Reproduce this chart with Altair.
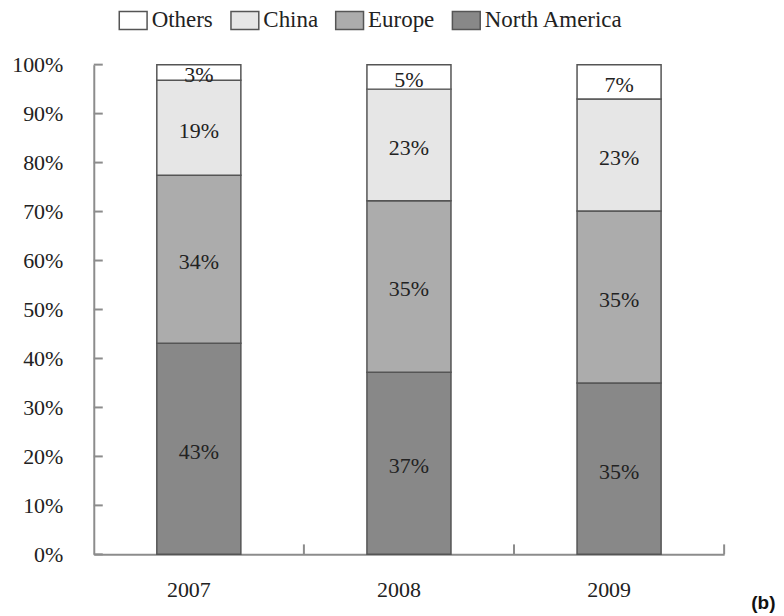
import altair as alt
import pandas as pd

years = ["2007", "2008", "2009"]
regions = ["North America", "Europe", "China", "Others"]
north_america = [43.1, 37.2, 35.0]
europe = [34.3, 35.0, 35.1]
china = [19.4, 22.8, 22.9]
others = [3.2, 5.0, 7.0]
y_tick_values = [0, 10, 20, 30, 40, 50, 60, 70, 80, 90, 100]

legend_order = ["Others", "China", "Europe", "North America"]
colors = ["#ffffff", "#e6e6e6", "#acacac", "#888888"]

SERIF = "Liberation Serif"
AXIS_COLOR = "#8c8c8c"
TEXT_COLOR = "#222222"

series = {"North America": north_america, "Europe": europe, "China": china, "Others": others}
rows = []
for i, yr in enumerate(years):
    base = 0.0
    for k, r in enumerate(regions):
        v = series[r][i]
        rows.append(dict(year=yr, region=r, value=v, order=k, mid=base + v / 2, label=f"{round(v)}%"))
        base += v
df = pd.DataFrame(rows)
ticks_df = pd.DataFrame({"v": y_tick_values})
years_df = pd.DataFrame({"year": years})

x_scale = alt.Scale(domain=years, paddingInner=0, paddingOuter=0)
y_scale = alt.Scale(domain=[0, 100], nice=False)

x_axis = alt.Axis(
    title="(b)", titleFont="Liberation Sans", titleFontWeight="bold", titleFontSize=19,
    titleColor="#111111", titleX=683, titleY=48, titleAlign="right", titleBaseline="middle",
    labelAngle=0, ticks=False, tickSize=0, domainColor=AXIS_COLOR, domainWidth=2,
    labelFont=SERIF, labelFontSize=22, labelColor=TEXT_COLOR, labelPadding=25, labelOffset=-10,
)
y_axis = alt.Axis(
    title=None, values=y_tick_values, labelExpr="datum.value + '%'", ticks=False, tickSize=0,
    domainColor=AXIS_COLOR, domainWidth=2, grid=False,
    labelFont=SERIF, labelFontSize=22, labelColor=TEXT_COLOR, labelPadding=31,
)

bars = alt.Chart(df).mark_bar(
    width=alt.RelativeBandSize(0.4), stroke="#555555", strokeWidth=1.5
).encode(
    x=alt.X("year:N", scale=x_scale, axis=x_axis),
    y=alt.Y("value:Q", stack="zero", scale=y_scale, axis=y_axis),
    color=alt.Color(
        "region:N",
        scale=alt.Scale(domain=legend_order, range=colors),
        legend=alt.Legend(
            title=None, orient="none", direction="horizontal", legendX=28, legendY=-56,
            symbolType="M-1.55,-1H1.55V1H-1.55Z", symbolSize=324,
            symbolStrokeColor="#555555", symbolStrokeWidth=1.5,
            labelFont=SERIF, labelFontSize=23, labelColor=TEXT_COLOR, labelOffset=7,
            columnPadding=14,
        ),
    ),
    order=alt.Order("order:Q"),
)

labels = alt.Chart(df).mark_text(
    font=SERIF, fontSize=22, color=TEXT_COLOR, dy=3
).encode(
    x=alt.X("year:N", scale=x_scale, axis=x_axis),
    y=alt.Y("mid:Q", scale=y_scale, axis=y_axis),
    text="label:N",
)

y_ticks = alt.Chart(ticks_df).mark_rule(color=AXIS_COLOR, strokeWidth=2).encode(
    y=alt.Y("v:Q", scale=y_scale, axis=y_axis),
    x=alt.value(0),
    x2=alt.value(9),
)

x_ticks = alt.Chart(years_df).mark_rule(color=AXIS_COLOR, strokeWidth=2).encode(
    x=alt.X("year:N", scale=x_scale, axis=x_axis, bandPosition=1),
    y=alt.value(491),
    y2=alt.value(481),
)

chart = alt.layer(bars, labels, y_ticks, x_ticks).properties(
    width=632, height=491, autosize="none", background="white",
    padding={"left": 86, "top": 56, "right": 52, "bottom": 58},
).configure_view(stroke=None)

chart.save("out.html", embed_options={"renderer": "svg", "actions": False})
